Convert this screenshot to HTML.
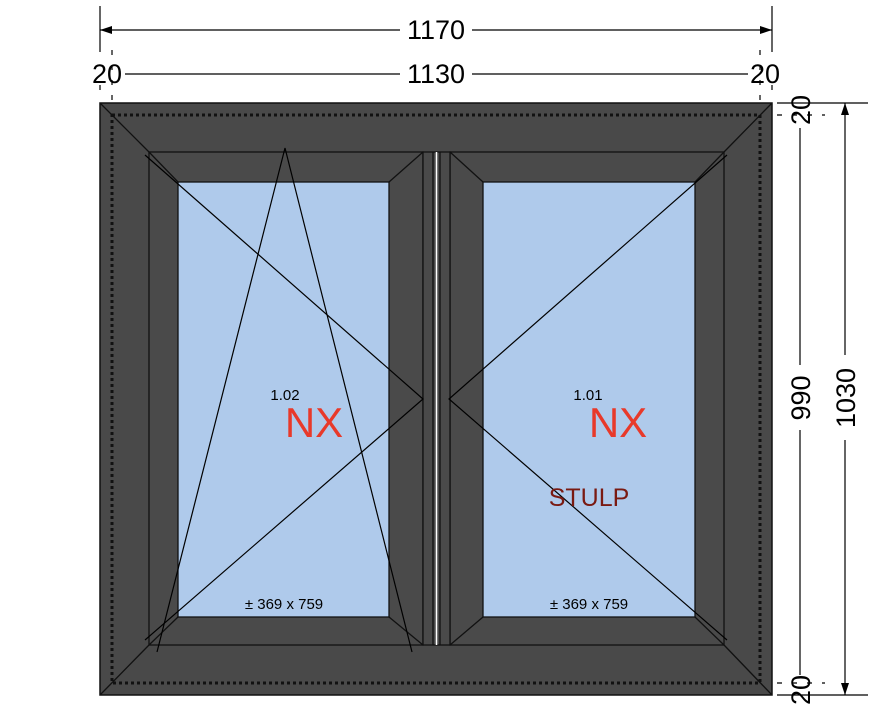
<!DOCTYPE html>
<html><head><style>html,body{margin:0;padding:0;background:#fff}svg{display:block}</style></head><body>
<svg width="880" height="722" viewBox="0 0 880 722" xmlns="http://www.w3.org/2000/svg" font-family="Liberation Sans, Arial, sans-serif">
<rect x="0" y="0" width="880" height="722" fill="#fff"/>
<rect x="100" y="103" width="672" height="592" fill="#494949" stroke="#111" stroke-width="1.5"/>
<rect x="112" y="115" width="648" height="568" fill="none" stroke="#111" stroke-width="3" stroke-dasharray="3,3"/>
<g stroke="#111" stroke-width="1.3">
<line x1="100" y1="103" x2="149" y2="152"/>
<line x1="772" y1="103" x2="724" y2="152"/>
<line x1="100" y1="695" x2="149" y2="645"/>
<line x1="772" y1="695" x2="724" y2="645"/>
</g>
<rect x="149" y="152" width="274" height="493" fill="#4a4a4a" stroke="#111" stroke-width="1.3"/>
<rect x="450" y="152" width="274" height="493" fill="#4a4a4a" stroke="#111" stroke-width="1.3"/>
<rect x="423" y="152" width="27" height="493" fill="#4a4a4a" stroke="#111" stroke-width="1.3"/>
<line x1="433" y1="152" x2="433" y2="645" stroke="#111" stroke-width="1.3"/>
<line x1="436.5" y1="152" x2="436.5" y2="645" stroke="#fff" stroke-width="1.5"/>
<line x1="440" y1="152" x2="440" y2="645" stroke="#111" stroke-width="1.3"/>
<rect x="178" y="182" width="211" height="435" fill="#afcaeb" stroke="#111" stroke-width="1.3"/>
<rect x="483" y="182" width="212" height="435" fill="#afcaeb" stroke="#111" stroke-width="1.3"/>
<g stroke="#111" stroke-width="1.3">
<line x1="149" y1="152" x2="178" y2="182"/>
<line x1="423" y1="152" x2="389" y2="182"/>
<line x1="149" y1="645" x2="178" y2="617"/>
<line x1="423" y1="645" x2="389" y2="617"/>
<line x1="450" y1="152" x2="483" y2="182"/>
<line x1="724" y1="152" x2="695" y2="182"/>
<line x1="450" y1="645" x2="483" y2="617"/>
<line x1="724" y1="645" x2="695" y2="617"/>
</g>
<g stroke="#000" stroke-width="1.2" fill="none">
<polyline points="145,155 423,399 145,640"/>
<polyline points="157,652 285,148 412,652"/>
<polyline points="727,155 449,399 727,640"/>
</g>
<text x="285" y="400" font-size="15" text-anchor="middle">1.02</text>
<text x="314" y="437" font-size="42" fill="#e8392a" text-anchor="middle">NX</text>
<text x="588" y="400" font-size="15" text-anchor="middle">1.01</text>
<text x="618" y="437" font-size="42" fill="#e8392a" text-anchor="middle">NX</text>
<text x="589" y="506" font-size="25" fill="#7a1a12" text-anchor="middle">STULP</text>
<text x="284" y="609" font-size="15" text-anchor="middle">± 369 x 759</text>
<text x="589" y="609" font-size="15" text-anchor="middle">± 369 x 759</text>
<g stroke="#000" stroke-width="1.2">
<line x1="100" y1="6" x2="100" y2="52"/>
<line x1="772" y1="6" x2="772" y2="52"/>
<line x1="100" y1="30" x2="400" y2="30"/>
<line x1="472" y1="30" x2="772" y2="30"/>
<line x1="125" y1="74" x2="400" y2="74"/>
<line x1="472" y1="74" x2="748" y2="74"/>
<line x1="112" y1="50" x2="112" y2="100" stroke-dasharray="5,10"/>
<line x1="760" y1="50" x2="760" y2="100" stroke-dasharray="5,10"/>
<line x1="100" y1="85" x2="100" y2="100" stroke-dasharray="5,10"/>
<line x1="772" y1="85" x2="772" y2="100" stroke-dasharray="5,10"/>
</g>
<polygon points="100,30 112,26 112,34" fill="#000"/>
<polygon points="772,30 760,26 760,34" fill="#000"/>
<text x="436" y="39" font-size="27" text-anchor="middle">1170</text>
<text x="436" y="83" font-size="27" text-anchor="middle">1130</text>
<text x="107" y="83" font-size="27" text-anchor="middle">20</text>
<text x="765" y="83" font-size="27" text-anchor="middle">20</text>
<g stroke="#000" stroke-width="1.2">
<line x1="777" y1="103" x2="868" y2="103"/>
<line x1="777" y1="695" x2="868" y2="695"/>
<line x1="777" y1="115" x2="825" y2="115" stroke-dasharray="5,10"/>
<line x1="777" y1="683" x2="825" y2="683" stroke-dasharray="5,10"/>
<line x1="800" y1="128" x2="800" y2="365"/>
<line x1="800" y1="430" x2="800" y2="675"/>
<line x1="845" y1="103" x2="845" y2="355"/>
<line x1="845" y1="440" x2="845" y2="695"/>
</g>
<polygon points="845,103 841,115 849,115" fill="#000"/>
<polygon points="845,695 841,683 849,683" fill="#000"/>
<text transform="translate(810,398) rotate(-90)" font-size="27" text-anchor="middle">990</text>
<text transform="translate(855,398) rotate(-90)" font-size="27" text-anchor="middle">1030</text>
<text transform="translate(810,110) rotate(-90)" font-size="27" text-anchor="middle">20</text>
<text transform="translate(810,690) rotate(-90)" font-size="27" text-anchor="middle">20</text>
</svg>
</body></html>
